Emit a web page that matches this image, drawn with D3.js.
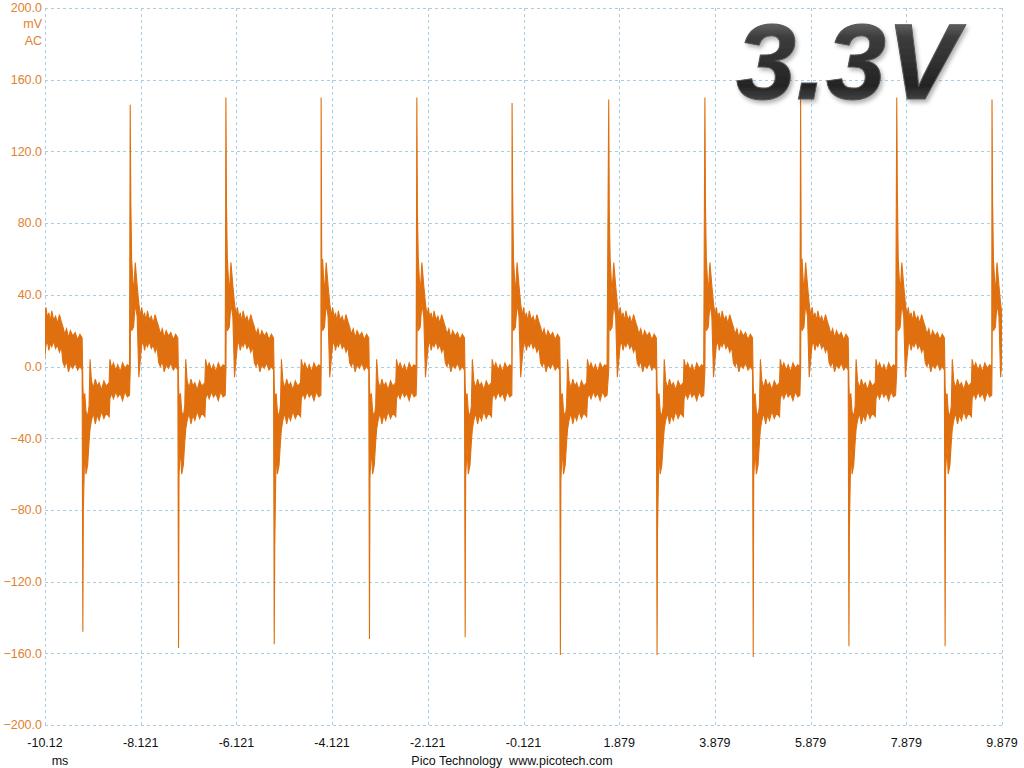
<!DOCTYPE html>
<html>
<head>
<meta charset="UTF-8" />
<title>Pico scope trace 3.3V</title>
<script src="https://d3js.org/d3.v7.min.js"></script>
<style>
  body { margin: 0; background: #ffffff; }
  svg { display: block; font-family: "Liberation Sans", Arial, sans-serif; }
  .ylab { fill: #e0822e; font-size: 12.5px; }
  .xlab { fill: #111111; font-size: 12.5px; }
  .grid { stroke: #a9cde3; stroke-width: 1; stroke-dasharray: 3,3; }
</style>
</head>
<body>
<svg id="chart" width="1024" height="768"></svg>
<script>
  // axis ticks (ms and mV)
  const xTicks = [-10.121, -8.121, -6.121, -4.121, -2.121, -0.121, 1.879, 3.879, 5.879, 7.879, 9.879];
  const xTickLabels = ["-10.12", "-8.121", "-6.121", "-4.121", "-2.121", "-0.121", "1.879", "3.879", "5.879", "7.879", "9.879"];
  const yTicks = [200, 160, 120, 80, 40, 0, -40, -80, -120, -160, -200];

  // times (ms) of each positive spike, the first one sits just left of the screen
  const spikeTimes = [-10.34, -8.34, -6.34, -4.35, -2.35, -0.36, 1.66, 3.67, 5.67, 7.68, 9.67];
  const posPeak   = [148, 146, 150, 150, 150, 147, 149, 150, 150, 150, 149];
  const posSecond = [90, 92, 89, 59, 86, 96, 87, 89, 60, 97, 92];
  const negPeak   = [-148, -157, -155, -152, -151, -161, -161, -162, -156, -156];
  const negSecond = [-80, -60, -100, -62, -62, -63, -91, -62, -90, -58];

  // one cycle envelope: offset after the spike (ms), low and high (mV)
  const shapeOffset = [0.000, 0.012, 0.030, 0.070, 0.105, 0.145, 0.180, 0.215,
                       0.240, 0.270, 0.300, 0.330, 0.360, 0.400, 0.440, 0.480, 0.520, 0.560,
                       0.596, 0.630, 0.670, 0.710, 0.750, 0.800, 0.850, 0.900, 0.950, 0.995,
                       1.010, 1.020, 1.050, 1.075, 1.110, 1.140, 1.160,
                       1.190, 1.230, 1.270, 1.310, 1.350, 1.400, 1.450, 1.500, 1.560,
                       1.575, 1.610, 1.650, 1.700, 1.740, 1.790, 1.840, 1.890, 1.940, 1.985];
  const shapeLow    = [-2, 55, 20, 22, 35, 28, -6, 5,
                       12, 14, 9, 13, 11, 14, 10, 12, 8, 11,
                       2, 0, 3, -3, 1, -1, 2, -2, 0, -2,
                       null, null, -45, -60, -55, -42, -35,
                       -30, -26, -32, -27, -30, -25, -29, -26, -28,
                       -18, -15, -18, -14, -17, -15, -19, -14, -17, -16];
  const shapeHigh   = [null, null, 60, 40, 58, 45, 35, 28,
                       33, 27, 30, 25, 31, 26, 28, 24, 29, 25,
                       22, 18, 21, 16, 20, 17, 19, 15, 18, 16,
                       -10, -18, -15, -25, -28, -22, 4,
                       -8, -12, -7, -11, -9, -13, -8, -11, -9,
                       4, -1, 2, -2, 1, -3, 2, -1, 1, 0];

  const width = 1024, height = 768;
  const plot = { left: 45, right: 1002, top: 8, bottom: 725 };

  const svg = d3.select("#chart");

  const x = d3.scaleLinear().domain([-10.121, 9.879]).range([plot.left, plot.right]);
  const y = d3.scaleLinear().domain([-200, 200]).range([plot.bottom, plot.top]);

  // build envelope points cycle by cycle
  const trace = [];
  spikeTimes.forEach((t0, k) => {
    shapeOffset.forEach((off, i) => {
      let lo = shapeLow[i], hi = shapeHigh[i];
      if (i === 0) hi = posPeak[k];
      if (i === 1) hi = posSecond[k];
      if (i === 28) lo = negPeak[k];
      if (i === 29) lo = negSecond[k];
      if (lo === undefined || hi === undefined) return;
      trace.push({ t: t0 + off, lo: lo, hi: hi });
    });
  });

  // grid
  svg.append("g").selectAll("line")
    .data(xTicks)
    .enter().append("line")
    .attr("class", "grid")
    .attr("x1", d => Math.round(x(d)) + 0.5)
    .attr("x2", d => Math.round(x(d)) + 0.5)
    .attr("y1", plot.top)
    .attr("y2", plot.bottom);

  svg.append("g").selectAll("line")
    .data(yTicks)
    .enter().append("line")
    .attr("class", "grid")
    .attr("x1", plot.left)
    .attr("x2", plot.right)
    .attr("y1", d => Math.round(y(d)) + 0.5)
    .attr("y2", d => Math.round(y(d)) + 0.5);

  // trace
  svg.append("clipPath").attr("id", "clip")
    .append("rect")
    .attr("x", plot.left).attr("y", plot.top)
    .attr("width", plot.right - plot.left).attr("height", plot.bottom - plot.top);

  const area = d3.area()
    .x(d => x(d.t))
    .y0(d => y(d.lo))
    .y1(d => y(d.hi));

  svg.append("path")
    .datum(trace)
    .attr("clip-path", "url(#clip)")
    .attr("d", area)
    .attr("fill", "#e0700f")
    .attr("stroke", "#e0700f")
    .attr("stroke-width", 1.1)
    .attr("stroke-linejoin", "miter");

  // y labels
  svg.append("g").selectAll("text")
    .data(yTicks)
    .enter().append("text")
    .attr("class", "ylab")
    .attr("x", 42)
    .attr("y", d => y(d))
    .attr("dy", "0.35em")
    .attr("text-anchor", "end")
    .text(d => d3.format(".1f")(d));

  svg.append("text").attr("class", "ylab")
    .attr("x", 42).attr("y", 24).attr("dy", "0.35em")
    .attr("text-anchor", "end").text("mV");
  svg.append("text").attr("class", "ylab")
    .attr("x", 42).attr("y", 41).attr("dy", "0.35em")
    .attr("text-anchor", "end").text("AC");

  // x labels
  svg.append("g").selectAll("text")
    .data(xTicks)
    .enter().append("text")
    .attr("class", "xlab")
    .attr("x", d => x(d))
    .attr("y", 743)
    .attr("dy", "0.35em")
    .attr("text-anchor", "middle")
    .text((d, i) => xTickLabels[i]);

  svg.append("text").attr("class", "xlab")
    .attr("x", 60).attr("y", 761).attr("dy", "0.35em")
    .attr("text-anchor", "middle").text("ms");

  svg.append("text").attr("class", "xlab")
    .attr("x", 512).attr("y", 761).attr("dy", "0.35em")
    .attr("text-anchor", "middle")
    .attr("xml:space", "preserve")
    .text("Pico Technology  www.picotech.com");

  // big 3.3V title
  const defs = svg.append("defs");
  const grad = defs.append("linearGradient")
    .attr("id", "titleGrad")
    .attr("x1", 0).attr("y1", 0).attr("x2", 0).attr("y2", 1);
  grad.append("stop").attr("offset", "0%").attr("stop-color", "#a0a0a0");
  grad.append("stop").attr("offset", "30%").attr("stop-color", "#3c3c3c");
  grad.append("stop").attr("offset", "70%").attr("stop-color", "#242424");
  grad.append("stop").attr("offset", "100%").attr("stop-color", "#6e6e6e");

  const shadow = defs.append("filter").attr("id", "titleShadow")
    .attr("x", "-10%").attr("y", "-10%").attr("width", "130%").attr("height", "130%");
  shadow.append("feDropShadow")
    .attr("dx", 2).attr("dy", 3).attr("stdDeviation", 2)
    .attr("flood-color", "#000").attr("flood-opacity", 0.3);

  svg.append("text")
    .attr("x", 736)
    .attr("y", 99)
    .attr("font-family", "'Liberation Sans', Arial, sans-serif")
    .attr("font-size", 108)
    .attr("font-weight", "bold")
    .attr("font-style", "italic")
    .attr("fill", "url(#titleGrad)")
    .attr("stroke", "#555")
    .attr("stroke-width", 1)
    .attr("filter", "url(#titleShadow)")
    .text("3.3V");
</script>
</body>
</html>
